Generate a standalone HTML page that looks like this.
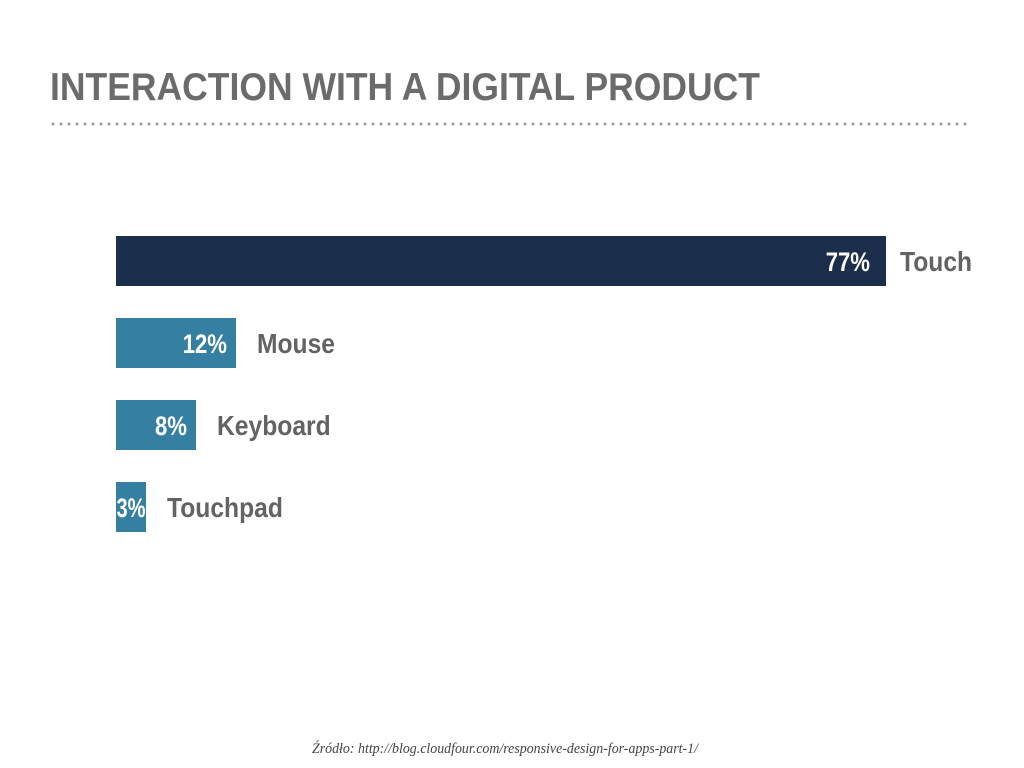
<!DOCTYPE html>
<html><head><meta charset="utf-8">
<style>
html,body{margin:0;padding:0;background:#fff;}
svg{display:block;}
</style></head>
<body>
<svg id="chart" width="1024" height="768" xmlns="http://www.w3.org/2000/svg">
  <text x="50" y="100" font-family="'Liberation Sans', sans-serif" font-weight="bold" font-size="39" fill="#6b6b6b" textLength="710" lengthAdjust="spacingAndGlyphs">INTERACTION WITH A DIGITAL PRODUCT</text>
  <line x1="53" y1="124" x2="972" y2="124" stroke="#9a9a9a" stroke-width="3" stroke-linecap="round" stroke-dasharray="0 8"/>
  <g id="bars"></g>
  <text x="312" y="753" font-family="'Liberation Serif', serif" font-style="italic" font-size="15" fill="#444" textLength="386" lengthAdjust="spacingAndGlyphs">Źródło: http://blog.cloudfour.com/responsive-design-for-apps-part-1/</text>
</svg>
<script>
const categories = ["Touch", "Mouse", "Keyboard", "Touchpad"];
const values = [77, 12, 8, 3];
const valueLabels = ["77%", "12%", "8%", "3%"];

const NS = "http://www.w3.org/2000/svg";
const x0 = 116, pxPerPct = 10;
const xScale = v => x0 + v * pxPerPct;
const yTop = i => 236 + i * 82;
const barH = 50;
const g = document.getElementById("bars");
function condense(t, f, maxW) {
  let w = t.getComputedTextLength() * f;
  if (maxW && w > maxW) w = maxW;
  t.setAttribute("textLength", w.toFixed(1));
  t.setAttribute("lengthAdjust", "spacingAndGlyphs");
  return w;
}
categories.forEach((c, i) => {
  const xe = xScale(values[i]);
  const r = document.createElementNS(NS, "rect");
  
  
  r.setAttribute("x", x0); r.setAttribute("y", yTop(i));
  r.setAttribute("width", xe - x0); r.setAttribute("height", barH);
  r.setAttribute("fill", i === 0 ? "#1b2e4b" : "#3580a2");
  g.appendChild(r);
  const v = document.createElementNS(NS, "text");
  
  
  v.setAttribute("y", yTop(i) + 35);
  v.setAttribute("font-family", "'Liberation Sans', sans-serif");
  v.setAttribute("font-weight", "bold");
  v.setAttribute("font-size", "27");
  v.setAttribute("fill", "#fff");
  v.textContent = valueLabels[i];
  v.setAttribute("x", 0);
  g.appendChild(v);
  const vw = condense(v, 0.82, xe - x0 - 1);
  let vx = xe - (i === 0 ? 16 : 9) - vw;
  if (vx < x0 + 0.5) vx = x0 + 0.5;
  v.setAttribute("x", vx.toFixed(1));
  const l = document.createElementNS(NS, "text");
  
  
  l.setAttribute("x", xe + (i === 0 ? 14 : 21)); l.setAttribute("y", yTop(i) + 35);
  l.setAttribute("font-family", "'Liberation Sans', sans-serif");
  l.setAttribute("font-weight", "bold");
  l.setAttribute("font-size", "28");
  l.setAttribute("fill", "#636363");
  l.textContent = c;
  g.appendChild(l);
  condense(l, 0.88);
});
</script>
</body></html>
